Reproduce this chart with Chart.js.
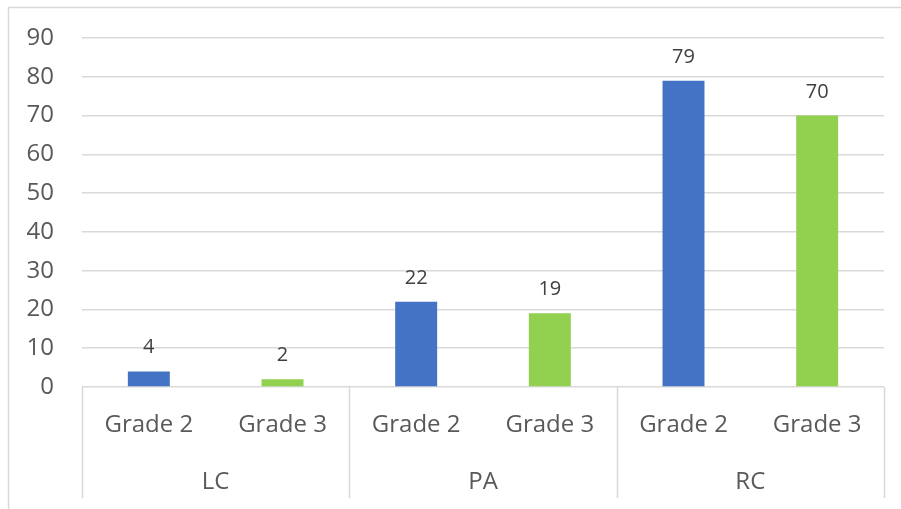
<!DOCTYPE html>
<html>
<head>
<meta charset="utf-8">
<script src="https://cdn.jsdelivr.net/npm/chart.js@4.4.0/dist/chart.umd.min.js"></script>
<style>
  html, body { margin: 0; padding: 0; background: #fff; }
  #wrap { width: 901px; height: 509px; }
</style>
</head>
<body>
<div id="wrap"><canvas id="myChart" width="901" height="509"></canvas></div>
<script>
const groups = ['LC', 'PA', 'RC'];
const grades = ['Grade 2', 'Grade 3'];
const grade2 = [4, 22, 79];
const grade3 = [2, 19, 70];
const yTicks = [0, 10, 20, 30, 40, 50, 60, 70, 80, 90];

const gradeColors = ['#4472C4', '#92D050'];
const textColor = '#595959';
const lineColor = '#d9d9d9';
const font = '"Open Sans", "Noto Sans", sans-serif';

// one slot per group/grade pair
const labels = [];
const values = [];
const colors = [];
groups.forEach((g, i) => {
    [grade2[i], grade3[i]].forEach((v, j) => {
        labels.push(grades[j]);
        values.push(v);
        colors.push(gradeColors[j]);
    });
});

// outer frame, category separators, group names and value labels
const extras = {
    id: 'extras',
    beforeDraw(chart) {
        const c = chart.ctx;
        c.save();
        c.strokeStyle = lineColor;
        c.lineWidth = 1.5;
        c.beginPath();
        c.moveTo(8.5, 1000);
        c.lineTo(8.5, 7.5);
        c.lineTo(1000, 7.5);
        c.stroke();
        c.restore();
    },
    afterDraw(chart) {
        const c = chart.ctx;
        const x = chart.scales.x;
        const area = chart.chartArea;
        const step = x.getPixelForValue(1) - x.getPixelForValue(0);
        c.save();
        c.strokeStyle = lineColor;
        c.lineWidth = 1.5;
        for (let i = 0; i <= groups.length; i++) {
            const px = Math.round(x.getPixelForValue(i * grades.length) - step / 2) + 0.5;
            c.beginPath();
            c.moveTo(px, area.bottom);
            c.lineTo(px, area.bottom + 111);
            c.stroke();
        }
        c.fillStyle = textColor;
        c.font = '24px ' + font;
        c.textAlign = 'center';
        c.textBaseline = 'middle';
        groups.forEach((g, i) => {
            const px = (x.getPixelForValue(i * 2) + x.getPixelForValue(i * 2 + 1)) / 2;
            c.fillText(g, px, area.bottom + 95);
        });
        const meta = chart.getDatasetMeta(0);
        c.fillStyle = '#404040';
        c.font = '20px ' + font;
        c.textBaseline = 'alphabetic';
        meta.data.forEach((bar, i) => {
            c.fillText(String(values[i]), bar.x, bar.y - 18);
        });
        c.restore();
    }
};

const ctx = document.getElementById('myChart').getContext('2d');
const myChart = new Chart(ctx, {
    type: 'bar',
    data: {
        labels: labels,
        datasets: [{
            data: values,
            backgroundColor: colors,
            borderWidth: 0,
            categoryPercentage: 1,
            barPercentage: 0.314
        }]
    },
    options: {
        responsive: false,
        animation: false,
        layout: { padding: { left: 8, top: 38, right: 17, bottom: 11 } },
        plugins: {
            legend: { display: false },
            tooltip: { enabled: false }
        },
        scales: {
            x: {
                grid: { display: false },
                border: { display: false },
                ticks: {
                    color: textColor,
                    font: { size: 24, family: font },
                    padding: 16,
                    maxRotation: 0
                },
                afterFit(scale) { scale.height = 111; }
            },
            y: {
                min: 0,
                max: 90,
                afterBuildTicks(scale) { scale.ticks = yTicks.map(v => ({ value: v })); },
                grid: { color: lineColor, lineWidth: 1.5, drawTicks: false },
                border: { display: false },
                ticks: {
                    color: textColor,
                    font: { size: 24, family: font },
                    padding: 28
                },
                afterFit(scale) {
                    scale.width = 74;
                    // the tick padding is horizontal here, keep it out of the top/bottom
                    scale.paddingTop = 0;
                    scale.paddingBottom = 0;
                }
            }
        }
    },
    plugins: [extras]
});
</script>
</body>
</html>
